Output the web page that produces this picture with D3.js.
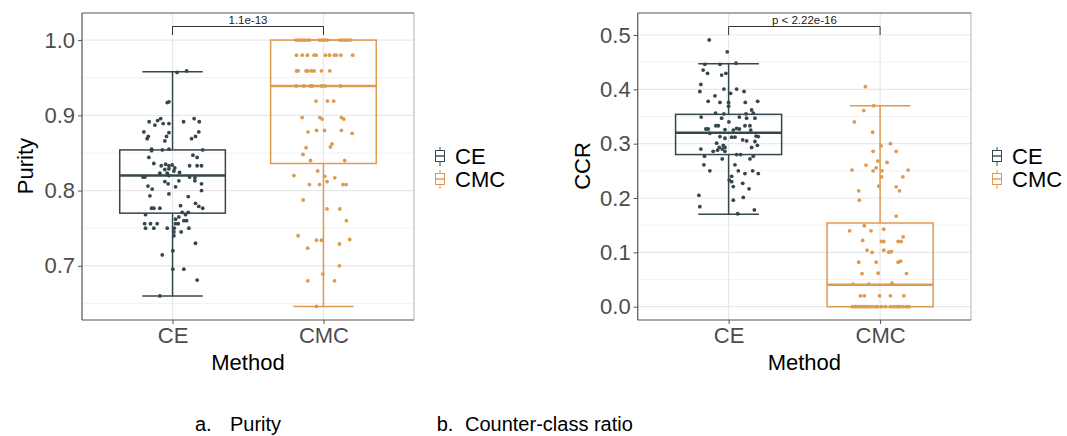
<!DOCTYPE html>
<html><head><meta charset="utf-8">
<script src="https://cdn.jsdelivr.net/npm/d3@7"></script>
<style>body{margin:0;background:#fff}svg{display:block;font-family:"Liberation Sans",Arial,sans-serif}</style>
</head><body><svg id="c" width="1067" height="436"></svg>
<script>
// ---------- DATA ----------
const methods = ["CE", "CMC"];
const purityTicks = [0.7, 0.8, 0.9, 1.0];
const ccrTicks = [0.0, 0.1, 0.2, 0.3, 0.4, 0.5];
// box stats: [lower whisker, Q1, median, Q3, upper whisker]
const purityBoxCE = [0.66, 0.770, 0.820, 0.854, 0.958];
const purityBoxCMC = [0.646, 0.836, 0.939, 1.0, 1.0];
const ccrBoxCE = [0.17, 0.28, 0.32, 0.354, 0.447];
const ccrBoxCMC = [0.0, 0.0, 0.0405, 0.154, 0.37];
const purityP = "1.1e-13";
const ccrP = "p < 2.22e-16";
// jittered points: [horizontal jitter (fraction of category step), value]
const purityCE = [
[0.03,0.957],[0.093,0.959],[-0.035,0.917],[-0.024,0.918],
[-0.155,0.8915],[-0.117,0.887],[-0.099,0.893],[-0.079,0.8955],[-0.062,0.889],[-0.024,0.889],[0.073,0.8915],[0.143,0.8955],[0.177,0.8915],
[-0.19,0.878],[-0.161,0.872],[-0.168,0.869],[-0.04,0.872],[-0.051,0.866],[-0.024,0.877],[0.174,0.878],[0.152,0.872],[0.126,0.869],
[-0.139,0.855],[-0.139,0.853],[-0.068,0.854],[-0.024,0.855],[0.2,0.854],
[-0.157,0.844],[0.135,0.847],[0.163,0.844],[-0.124,0.836],
[-0.075,0.833],[-0.046,0.835],[-0.024,0.833],[-0.002,0.834],[-0.051,0.828],[-0.024,0.829],[0.015,0.830],[0.046,0.824],[0.113,0.833],[0.163,0.833],[0.192,0.833],[0.009,0.826],[-0.084,0.823],[-0.035,0.823],
[-0.196,0.818],[-0.183,0.818],[-0.024,0.820],[0.113,0.818],[0.148,0.817],
[-0.163,0.806],[-0.135,0.802],[-0.051,0.812],[-0.029,0.809],[0.02,0.805],[0.042,0.813],[0.148,0.813],[0.192,0.809],[0.192,0.800],
[-0.15,0.793],[-0.024,0.7955],[0.104,0.792],[0.152,0.783],
[-0.139,0.7765],[-0.124,0.7765],[-0.084,0.7765],[0.053,0.780],[0.2,0.7765],[0.174,0.779],[-0.179,0.768],[0.064,0.771],[0.086,0.768],[0.104,0.771],
[0.042,0.765],[0.02,0.762],[0.075,0.760],[0.093,0.760],
[-0.185,0.756],[-0.146,0.756],[-0.102,0.756],[-0.179,0.750],[-0.124,0.750],[-0.035,0.750],[0.02,0.756],[0.038,0.756],[0.011,0.750],[0.108,0.750],[0.009,0.745],[0.057,0.745],[0.009,0.740],
[0.152,0.730],[-0.068,0.7145],[0.002,0.720],[0.002,0.6955],[0.075,0.6955],[0.163,0.681],[-0.084,0.66]
];
const purityCMC = [
[-0.181,1],[-0.163,1],[-0.146,1],[-0.128,1],[-0.11,1],[-0.093,1],[-0.026,1],[-0.009,1],[0.009,1],[0.026,1],[0.106,1],[0.124,1],[0.141,1],[0.159,1],[0.177,1],
[-0.179,0.98],[-0.141,0.98],[-0.106,0.98],[-0.062,0.98],[-0.049,0.98],[0.013,0.98],[0.04,0.98],[0.073,0.98],[0.084,0.98],[0.115,0.98],[0.194,0.98],
[-0.179,0.959],[-0.168,0.959],[-0.115,0.959],[-0.102,0.959],[-0.079,0.959],[-0.062,0.959],[-0.013,0.959],[0.042,0.959],
[-0.181,0.939],[-0.13,0.939],[-0.086,0.939],[-0.075,0.939],[-0.013,0.939],[0.009,0.939],[0.113,0.939],
[-0.049,0.919],[0.026,0.919],[0.068,0.919],
[-0.141,0.897],[-0.024,0.897],[-0.009,0.895],[0.119,0.897],[0.135,0.895],
[-0.102,0.878],[-0.046,0.880],[0.007,0.880],[0.119,0.880],[0.19,0.876],
[-0.115,0.857],[0.046,0.858],[0.057,0.862],[-0.135,0.848],[-0.086,0.840],[0.141,0.840],
[-0.038,0.826],[-0.196,0.820],[0.009,0.819],[0.075,0.817],[0.024,0.812],
[-0.093,0.808],[-0.026,0.808],[0.13,0.808],[0.15,0.808],
[-0.135,0.7875],[0.024,0.7756],[0.108,0.7756],[0.152,0.760],
[-0.168,0.740],[-0.046,0.734],[-0.013,0.734],[0.174,0.735],[0.106,0.729],[-0.104,0.7234],
[0.106,0.700],[-0.004,0.689],[-0.104,0.680],[0.073,0.680],[-0.046,0.646]
];
const ccrCE = [
[-0.128,0.491],[-0.009,0.469],
[-0.157,0.446],[-0.057,0.446],[0.049,0.448],
[-0.168,0.4355],[-0.139,0.4295],[-0.046,0.4263],[-0.018,0.4295],
[-0.183,0.409],[-0.19,0.396],[-0.031,0.4005],[0.053,0.4005],[0.102,0.396],[0.013,0.3926],
[-0.09,0.388],[-0.135,0.378],[-0.057,0.376],[0,0.376],[0.11,0.376],[0.192,0.378],[0,0.369],
[0.152,0.362],[0.163,0.356],[-0.086,0.356],[-0.031,0.355],[-0.181,0.349],[-0.046,0.347],[0.002,0.340],[0.071,0.349],[0.115,0.355],[0.119,0.347],[0.174,0.347],
[-0.084,0.333],[-0.068,0.333],[0.108,0.333],[0.141,0.333],[0.146,0.325],[-0.15,0.327],[-0.135,0.327],[-0.024,0.326],[0.071,0.327],[0.031,0.325],[0.053,0.328],
[-0.124,0.319],[-0.057,0.313],[0.02,0.312],[0.042,0.312],[-0.024,0.310],[0.093,0.307],[0.119,0.305],[0.181,0.314],[0.196,0.313],[0.19,0.297],[0.174,0.304],
[-0.079,0.301],[-0.035,0.297],[-0.062,0.293],[-0.024,0.293],[-0.183,0.290],[-0.102,0.286],[-0.073,0.288],[-0.042,0.290],[-0.024,0.286],[0.152,0.293],
[-0.159,0.277],[0.053,0.280],[0.079,0.280],[0.163,0.277],[-0.042,0.272],[0.141,0.272],
[-0.163,0.261],[0.042,0.261],[-0.124,0.250],[0.064,0.250],[0.108,0.245],[0.159,0.250],[0.196,0.245],
[0.02,0.240],[0.004,0.233],[0.02,0.230],[0.093,0.227],[0.031,0.221],[0.135,0.217],
[-0.196,0.205],[0.097,0.201],[0.031,0.196],[-0.19,0.184],[0.17,0.178],[0.06,0.171]
];
const ccrCMC = [
[-0.097,0.405],[-0.042,0.370],[-0.108,0.361],[-0.17,0.340],[-0.049,0.321],
[0.007,0.296],[0.068,0.300],[-0.046,0.286],[0.106,0.286],
[-0.015,0.268],[0.046,0.2655],[-0.093,0.2606],[-0.026,0.2556],[-0.046,0.250],[0.013,0.250],[-0.185,0.2514],[0.185,0.2514],
[0.009,0.239],[0.15,0.239],[-0.009,0.222],[0.106,0.2206],[0.128,0.2133],[-0.141,0.2133],[-0.137,0.196],
[0.106,0.1667],[-0.104,0.149],[-0.201,0.1396],[-0.06,0.1396],[0.024,0.1427],
[0.152,0.1285],[-0.115,0.122],[0.009,0.120],[0.024,0.120],[0.119,0.120],[0.139,0.120],
[-0.086,0.104],[-0.053,0.0998],[0.024,0.104],[0.057,0.1004],[0.075,0.1013],
[-0.141,0.082],[-0.026,0.082],[0.119,0.082],[0.135,0.0838],
[-0.119,0.061],[-0.013,0.0616],[0.174,0.061],
[-0.179,0.0414],[-0.075,0.0414],[0.079,0.0432],
[-0.13,0.02],[-0.104,0.02],[-0.004,0.02],[0.068,0.02],[0.157,0.02],
[-0.181,0],[-0.163,0],[-0.146,0],[-0.128,0],[-0.11,0],[-0.093,0],[-0.075,0],[-0.053,0],[-0.031,0],[-0.018,0],[0.009,0],[0.035,0],[0.071,0],[0.093,0],[0.113,0],[0.128,0],[0.15,0],[0.172,0],[0.19,0]
];
const yTitles = ["Purity", "CCR"];
const xTitle = "Method";
const captions = [["a.", "Purity"], ["b.", "Counter-class ratio"]];

// ---------- DRAW ----------
const colors = {CE: "#34474c", CMC: "#de9a50"};
const svg = d3.select("#c");
const FS = 22;

function panel(cfg) {
  const x = d3.scaleLinear().domain([0.4, 2.6]).range([cfg.x0, cfg.x1]);
  const y = d3.scaleLinear().domain(cfg.yDomain).range([320, 13]);
  const g = svg.append("g");
  // grid
  const minor = [];
  for (let i = 0; i < cfg.ticks.length + 1; i++) {
    const v = cfg.ticks[0] + (i - 0.5) * (cfg.ticks[1] - cfg.ticks[0]);
    if (v > cfg.yDomain[0] && v < cfg.yDomain[1]) minor.push(v);
  }
  g.selectAll(".mn").data(minor).join("line")
    .attr("x1", cfg.x0).attr("x2", cfg.x1).attr("y1", d => y(d)).attr("y2", d => y(d))
    .attr("stroke", "#f2f2f2").attr("stroke-width", 1);
  g.selectAll(".mj").data(cfg.ticks).join("line")
    .attr("x1", cfg.x0).attr("x2", cfg.x1).attr("y1", d => y(d)).attr("y2", d => y(d))
    .attr("stroke", "#e8e8e8").attr("stroke-width", 1.2);
  g.selectAll(".vx").data([1, 2]).join("line")
    .attr("x1", d => x(d)).attr("x2", d => x(d)).attr("y1", 13).attr("y2", 320)
    .attr("stroke", "#e8e8e8").attr("stroke-width", 1.2);

  const step = x(2) - x(1);
  cfg.groups.forEach((grp, i) => {
    const cx = x(i + 1), col = colors[methods[i]];
    const s = grp.box;
    const bw = 0.7 * step / 2, cw = 0.4 * step / 2;
    const gg = g.append("g").attr("stroke", col).attr("fill", "none");
    gg.append("line").attr("x1", cx).attr("x2", cx).attr("y1", y(s[0])).attr("y2", y(s[1])).attr("stroke-width", 1.5);
    gg.append("line").attr("x1", cx).attr("x2", cx).attr("y1", y(s[3])).attr("y2", y(s[4])).attr("stroke-width", 1.5);
    gg.append("line").attr("x1", cx - cw).attr("x2", cx + cw).attr("y1", y(s[0])).attr("y2", y(s[0])).attr("stroke-width", 1.5);
    gg.append("line").attr("x1", cx - cw).attr("x2", cx + cw).attr("y1", y(s[4])).attr("y2", y(s[4])).attr("stroke-width", 1.5);
    gg.append("rect").attr("x", cx - bw).attr("width", 2 * bw)
      .attr("y", y(s[3])).attr("height", y(s[1]) - y(s[3])).attr("stroke-width", 1.5);
    gg.append("line").attr("x1", cx - bw).attr("x2", cx + bw).attr("y1", y(s[2])).attr("y2", y(s[2])).attr("stroke-width", 2.6);
    g.append("g").selectAll("circle").data(grp.pts).join("circle")
      .attr("cx", d => cx + d[0] * step).attr("cy", d => y(d[1])).attr("r", 1.9)
      .attr("fill", col);
  });

  // frame
  g.append("line").attr("x1", cfg.x1).attr("x2", cfg.x1).attr("y1", 13).attr("y2", 320).attr("stroke", "#c4c4c4").attr("stroke-width", 1.3);
  g.append("line").attr("x1", cfg.x0).attr("x2", cfg.x1).attr("y1", 13).attr("y2", 13).attr("stroke", "#555").attr("stroke-width", 1.2);
  // axes
  const ya = g.append("g").attr("transform", `translate(${cfg.x0},0)`)
    .call(d3.axisLeft(y).tickValues(cfg.ticks).tickFormat(d3.format(".1f")).tickSize(4).tickPadding(3));
  ya.select(".domain").attr("stroke", "#555").attr("stroke-width", 1.2).attr("d", `M0,13V320`);
  ya.selectAll(".tick line").attr("stroke", "#555");
  ya.selectAll(".tick text").attr("fill", "#4d4d4d").attr("font-size", FS).attr("font-family", "Liberation Sans, Arial, sans-serif");
  const xa = g.append("g").attr("transform", "translate(0,320)")
    .call(d3.axisBottom(x).tickValues([1, 2]).tickFormat((d, i) => methods[i]).tickSize(4).tickPadding(3));
  xa.select(".domain").attr("stroke", "#555").attr("stroke-width", 1.2).attr("d", `M${cfg.x0},0H${cfg.x1}`);
  xa.selectAll(".tick line").attr("stroke", "#555");
  xa.selectAll(".tick text").attr("fill", "#4d4d4d").attr("font-size", FS).attr("font-family", "Liberation Sans, Arial, sans-serif");

  // titles
  g.append("text").attr("transform", `translate(${cfg.titleX},166) rotate(-90)`)
    .attr("text-anchor", "middle").attr("font-size", FS).attr("fill", "#000").text(cfg.yTitle);
  g.append("text").attr("x", (x(1) + x(2)) / 2).attr("y", 370).attr("text-anchor", "middle")
    .attr("font-size", FS).attr("fill", "#000").text(xTitle);

  // significance bracket
  g.append("path").attr("d", `M${x(1)},35V26.5H${x(2)}V35`).attr("fill", "none").attr("stroke", "#333").attr("stroke-width", 1);
  g.append("text").attr("x", (x(1) + x(2)) / 2).attr("y", 23.5).attr("text-anchor", "middle")
    .attr("font-size", 11.5).attr("fill", "#222").text(cfg.p);

  // legend
  methods.forEach((m, i) => {
    const ky = 156 + i * 23, kx = cfg.legX, col = colors[m];
    const lg = g.append("g").attr("stroke", col).attr("fill", "none").attr("stroke-width", 1);
    lg.append("line").attr("x1", kx + 4.5).attr("x2", kx + 4.5).attr("y1", ky - 9).attr("y2", ky + 10);
    lg.append("rect").attr("x", kx).attr("y", ky - 5.5).attr("width", 9).attr("height", 11).attr("fill", "#fff");
    lg.append("line").attr("x1", kx).attr("x2", kx + 9).attr("y1", ky).attr("y2", ky).attr("stroke-width", 1.4);
    g.append("text").attr("x", kx + 19.5).attr("y", ky + 7.5).attr("font-size", FS).attr("fill", "#000").text(m);
  });
}

panel({x0: 82, x1: 414, yDomain: [0.628, 1.036], ticks: purityTicks, yTitle: yTitles[0], titleX: 33,
  p: purityP, legX: 435.5,
  groups: [{box: purityBoxCE, pts: purityCE}, {box: purityBoxCMC, pts: purityCMC}]});
panel({x0: 637.7, x1: 971, yDomain: [-0.0245, 0.5405], ticks: ccrTicks, yTitle: yTitles[1], titleX: 590,
  p: ccrP, legX: 992.5,
  groups: [{box: ccrBoxCE, pts: ccrCE}, {box: ccrBoxCMC, pts: ccrCMC}]});

// captions
const capX = [[195, 230], [436.7, 465]];
captions.forEach((c, i) => {
  svg.append("text").attr("x", capX[i][0]).attr("y", 431).attr("font-size", 20).attr("fill", "#000").text(c[0]);
  svg.append("text").attr("x", capX[i][1]).attr("y", 431).attr("font-size", 20).attr("fill", "#000").text(c[1]);
});
</script></body></html>
